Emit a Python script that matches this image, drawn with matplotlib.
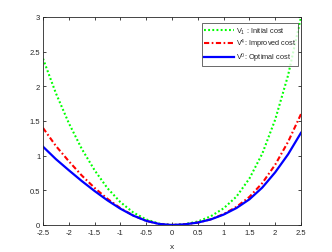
import matplotlib
matplotlib.use("Agg")
import matplotlib.pyplot as plt

plt.rcParams['font.family'] = ['Liberation Sans', 'DejaVu Sans']
plt.rcParams['mathtext.fontset'] = 'custom'
plt.rcParams['mathtext.rm'] = 'Liberation Sans'
plt.rcParams['mathtext.it'] = 'Liberation Sans'

x = [-2.5, -2.25, -2.0, -1.75, -1.5, -1.25, -1.0, -0.75, -0.5, -0.25, 0.0,
     0.25, 0.5, 0.75, 1.0, 1.25, 1.5, 1.75, 2.0, 2.25, 2.5]
v_initial = [2.40, 1.90, 1.47, 1.10, 0.79, 0.53, 0.33, 0.18, 0.08, 0.02, 0.0,
             0.012, 0.05, 0.125, 0.24, 0.41, 0.67, 1.03, 1.52, 2.16, 3.00]
v_improved = [1.40, 1.14, 0.92, 0.715, 0.535, 0.377, 0.243, 0.137, 0.06, 0.015, 0.0,
              0.01, 0.035, 0.082, 0.157, 0.262, 0.405, 0.605, 0.87, 1.20, 1.60]
v_optimal = [1.13, 0.95, 0.79, 0.635, 0.49, 0.355, 0.235, 0.135, 0.06, 0.015, 0.0,
             0.01, 0.035, 0.08, 0.15, 0.245, 0.37, 0.54, 0.76, 1.02, 1.33]
labels = [r'V$_1$ : Initial cost', r'V$^4$: Improved cost', r'V$^0$: Optimal cost']
xticks = [-2.5, -2, -1.5, -1, -0.5, 0, 0.5, 1, 1.5, 2, 2.5]
xticklabels = ['-2.5', '-2', '-1.5', '-1', '-0.5', '0', '0.5', '1', '1.5', '2', '2.5']
yticks = [0, 0.5, 1, 1.5, 2, 2.5, 3]
yticklabels = ['0', '0.5', '1', '1.5', '2', '2.5', '3']

fig = plt.figure(figsize=(3.32, 2.53), dpi=100)
ax = fig.add_axes([43/332, 1-226/253, (301-43)/332, (226-18)/253])
txt = '#262626'
ax.plot(x, v_initial, color='#00ff00', linestyle=(0, (0.9, 1.1)), linewidth=1.5, label=labels[0])
ax.plot(x, v_improved, color='#ff0000', linestyle=(0, (2.5, 1.2, 0.8, 1.2)), linewidth=1.5, label=labels[1])
ax.plot(x, v_optimal, color='#0000ff', linestyle='-', linewidth=1.6, label=labels[2])
ax.set_xlim(-2.5, 2.5)
ax.set_ylim(0, 3)
ax.set_xticks(xticks)
ax.set_xticklabels(xticklabels)
ax.set_yticks(yticks)
ax.set_yticklabels(yticklabels)
ax.tick_params(direction='in', length=2.5, width=0.6, labelsize=5.5, colors=txt,
               top=True, right=True, pad=2)
ax.tick_params(axis='x', pad=3)
for s in ax.spines.values():
    s.set_color(txt)
    s.set_linewidth(0.6)
ax.set_xlabel('x', fontsize=6, color=txt, labelpad=5)
leg = ax.legend(loc='upper right', fontsize=5.3, frameon=True, fancybox=False,
                edgecolor=txt, handlelength=4.0, handletextpad=0.3, borderpad=0.3,
                labelspacing=0.1, borderaxespad=0.0, bbox_to_anchor=(0.99, 0.97))
leg.get_frame().set_linewidth(0.6)
for t in leg.get_texts():
    t.set_color(txt)
fig.savefig('out.png', dpi=100)
